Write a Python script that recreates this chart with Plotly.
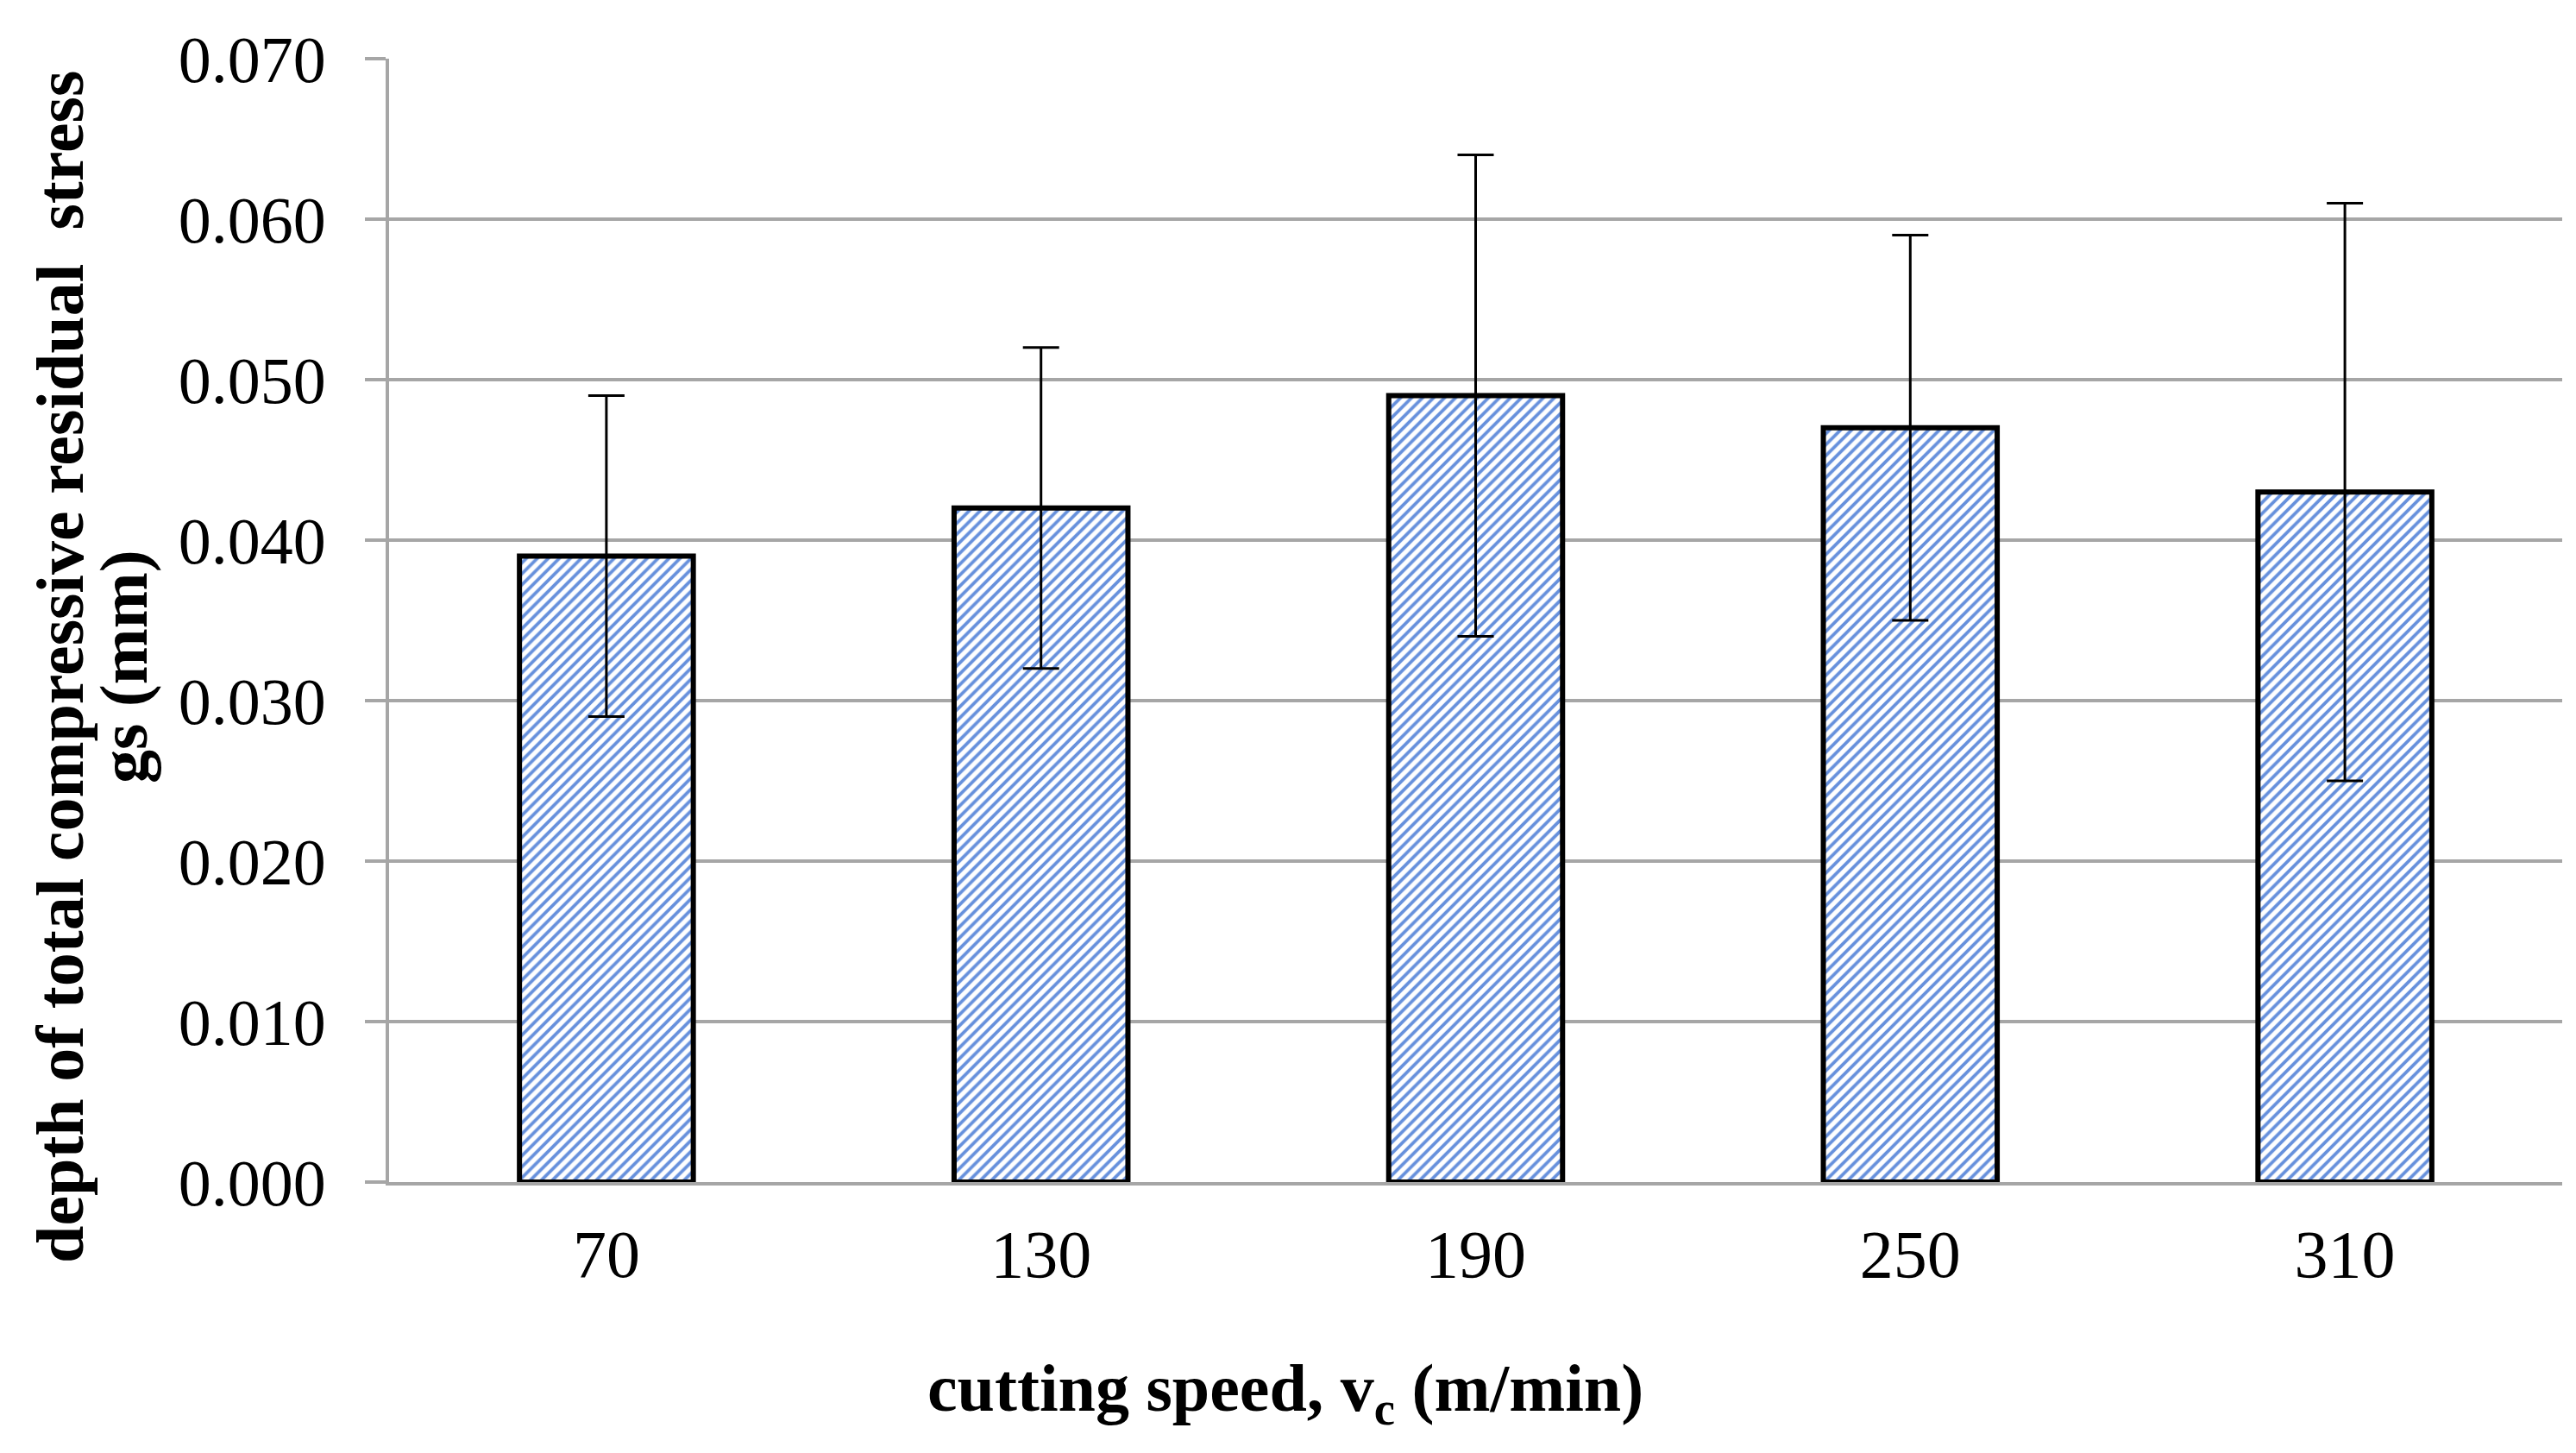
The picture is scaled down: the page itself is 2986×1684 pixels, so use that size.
import plotly.graph_objects as go

speeds = ["70", "130", "190", "250", "310"]
depth = [0.039, 0.042, 0.049, 0.047, 0.043]
err = [0.010, 0.010, 0.015, 0.012, 0.018]
yticks = [0.0, 0.01, 0.02, 0.03, 0.04, 0.05, 0.06, 0.07]

W, H = 2986, 1684
ML, MR, MT, MB = 443, 24, 60, 322
PW = W - ML - MR
PH = H - MT - MB

FONT = "Liberation Serif"
GRID = "#a6a6a6"

fig = go.Figure()
fig.add_trace(go.Bar(
    x=speeds, y=depth,
    marker=dict(
        color="white",
        line=dict(color="black", width=6),
        pattern=dict(shape="/", fgcolor="#6690dc", bgcolor="white",
                     size=9, solidity=0.42, fillmode="replace"),
    ),
    error_y=dict(type="data", array=err, visible=True,
                 color="black", thickness=3, width=21),
    showlegend=False,
))


def px_x(p):
    return (p - ML) / PW


def px_y(p):
    return (H - MB - p) / PH


fig.update_layout(
    width=W, height=H,
    margin=dict(l=ML, r=MR, t=MT, b=MB),
    plot_bgcolor="white", paper_bgcolor="white",
    bargap=0.6,
    font=dict(family=FONT, size=78, color="black"),
    xaxis=dict(
        type="category",
        showgrid=False,
        showline=True, linecolor=GRID, linewidth=4,
        ticks="", ticklabelstandoff=12,
        tickfont=dict(family=FONT, size=78, color="black"),
    ),
    yaxis=dict(
        range=[0, 0.070],
        tickvals=yticks,
        tickformat=".3f",
        showgrid=True, gridcolor=GRID, gridwidth=4,
        zeroline=False,
        showline=True, linecolor=GRID, linewidth=4,
        ticks="outside", ticklen=24, tickcolor=GRID, tickwidth=4,
        ticklabelstandoff=30,
        tickfont=dict(family=FONT, size=76, color="black"),
    ),
    annotations=[
        dict(text="<b>depth of total compressive residual  stress</b>",
             xref="paper", yref="paper", x=px_x(62), y=px_y(765),
             xanchor="center", yanchor="middle", textangle=-90,
             showarrow=False, font=dict(family=FONT, size=78, color="black")),
        dict(text="<b>gs (mm)</b>",
             xref="paper", yref="paper", x=px_x(136), y=px_y(765),
             xanchor="center", yanchor="middle", textangle=-90,
             showarrow=False, font=dict(family=FONT, size=78, color="black")),
        dict(text="<b>cutting speed, v<sub>c</sub> (m/min)</b>",
             xref="paper", yref="paper", x=px_x(1482), y=px_y(1606),
             xanchor="center", yanchor="middle",
             showarrow=False, font=dict(family=FONT, size=78, color="black")),
    ],
)

fig.write_html("out.html")
